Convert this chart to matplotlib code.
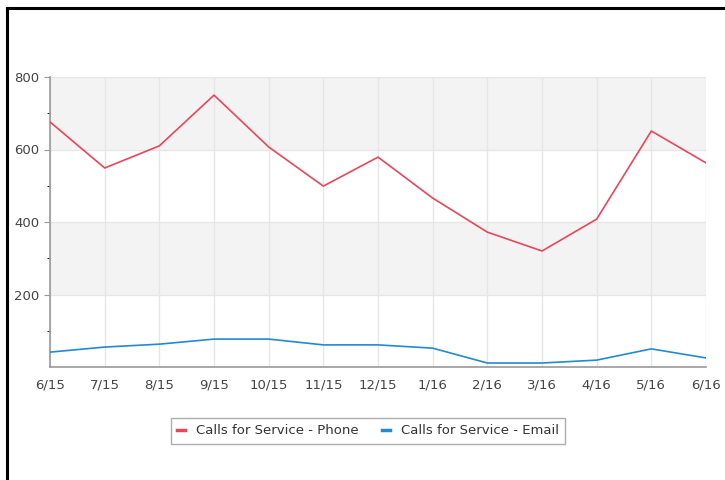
import matplotlib
matplotlib.use("Agg")
import matplotlib.pyplot as plt
from matplotlib.lines import Line2D

plt.rcParams['font.family'] = ['DejaVu Sans']

months = ["6/15", "7/15", "8/15", "9/15", "10/15", "11/15", "12/15",
          "1/16", "2/16", "3/16", "4/16", "5/16", "6/16"]
phone = [676, 549, 610, 750, 607, 499, 579, 466, 372, 320, 408, 651, 563]
email = [41, 55, 63, 77, 77, 61, 61, 52, 11, 11, 19, 50, 25]

RED = "#e8475a"
BLUE = "#2389d2"
GRID = "#e6e6e6"
BAND = "#f3f3f3"
TXT = "#444444"

fig = plt.figure(figsize=(7.25, 4.8), dpi=100)
ax = fig.add_axes([50 / 725, 113 / 480, 656 / 725, 290 / 480])

x = list(range(len(months)))

# alternating bands
for lo in (200, 600):
    ax.axhspan(lo, lo + 200, color=BAND, zorder=0, lw=0)

ax.plot(x, phone, color=RED, lw=1.2, label="Calls for Service - Phone", zorder=3)
ax.plot(x, email, color=BLUE, lw=1.2, label="Calls for Service - Email", zorder=3)

ax.set_xlim(0, len(months) - 1)
ax.set_ylim(0, 800)
ax.set_xticks(x)
ax.set_xticklabels(months)
ax.set_yticks([200, 400, 600, 800])
ax.set_yticks([100, 300, 500, 700], minor=True)

ax.grid(True, color=GRID, lw=1, zorder=1)
ax.set_axisbelow(True)

for s in ("top", "right"):
    ax.spines[s].set_visible(False)
for s in ("left", "bottom"):
    ax.spines[s].set_color("#999999")
    ax.spines[s].set_linewidth(1.2)

ax.tick_params(axis="both", colors="#999999", labelcolor=TXT, labelsize=9.5)
ax.tick_params(axis="y", which="major", length=4)
ax.tick_params(axis="y", which="minor", length=2)
ax.tick_params(axis="x", length=0, pad=8)

handles = [Line2D([0], [0], color=RED, lw=2.5),
           Line2D([0], [0], color=BLUE, lw=2.5)]
leg = fig.legend(handles, ["Calls for Service - Phone", "Calls for Service - Email"],
                 loc="center", bbox_to_anchor=(368 / 725, 1 - 431 / 480),
                 ncol=2, fontsize=9.5, frameon=True, fancybox=False,
                 handlelength=0.6, handletextpad=0.8, columnspacing=1.8,
                 borderpad=0.5)
leg.get_frame().set_edgecolor("#999999")
leg.get_frame().set_linewidth(1.0)
for t in leg.get_texts():
    t.set_color("#333333")

# outer black frame (left and top edges visible)
fig.add_artist(Line2D([7 / 725, 7 / 725], [0, 1 - 8 / 480], color="black", lw=2.2,
                      transform=fig.transFigure))
fig.add_artist(Line2D([7 / 725, 1], [1 - 8 / 480, 1 - 8 / 480], color="black", lw=2.2,
                      transform=fig.transFigure))

fig.savefig("out.png", dpi=100, facecolor="white")
